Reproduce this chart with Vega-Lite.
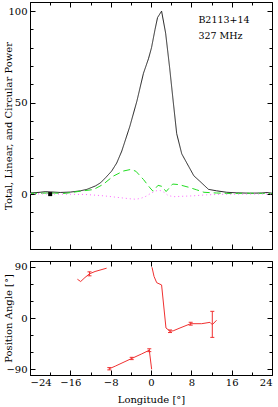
{
  "$schema": "https://vega.github.io/schema/vega-lite/v6.json",
  "padding": {"left": 2, "top": 1, "right": 0, "bottom": 0},
  "background": "white",
  "config": {
    "font": "DejaVu Serif",
    "view": {"stroke": "black", "strokeWidth": 1},
    "axis": {"domain": false, "grid": false, "tickColor": "black", "tickWidth": 1, "labelFont": "DejaVu Serif", "labelFontSize": 10, "labelColor": "black", "titleFont": "DejaVu Serif", "titleFontSize": 10, "titleFontWeight": "normal", "titleColor": "black"}
  },
  "spacing": 10,
  "datasets": {
    "prof": [
      {"pol": "I", "lon": -24, "val": 0.6}, {"pol": "I", "lon": -22, "val": 1.0}, {"pol": "I", "lon": -21, "val": 1.3}, {"pol": "I", "lon": -20, "val": 1.2}, {"pol": "I", "lon": -18, "val": 0.9}, {"pol": "I", "lon": -16, "val": 1.1}, {"pol": "I", "lon": -14, "val": 1.8}, {"pol": "I", "lon": -12.7, "val": 2.6}, {"pol": "I", "lon": -11, "val": 4.5}, {"pol": "I", "lon": -10, "val": 6.2}, {"pol": "I", "lon": -9, "val": 9}, {"pol": "I", "lon": -7.8, "val": 12.6}, {"pol": "I", "lon": -6.8, "val": 17}, {"pol": "I", "lon": -5.8, "val": 23.5}, {"pol": "I", "lon": -4.2, "val": 37}, {"pol": "I", "lon": -2.8, "val": 50.8}, {"pol": "I", "lon": -1.5, "val": 66}, {"pol": "I", "lon": -0.5, "val": 74}, {"pol": "I", "lon": 0.1, "val": 80}, {"pol": "I", "lon": 0.8, "val": 90}, {"pol": "I", "lon": 1.3, "val": 96.5}, {"pol": "I", "lon": 2.1, "val": 100}, {"pol": "I", "lon": 2.9, "val": 88}, {"pol": "I", "lon": 3.7, "val": 69}, {"pol": "I", "lon": 4.4, "val": 50.8}, {"pol": "I", "lon": 5.1, "val": 33}, {"pol": "I", "lon": 6.1, "val": 22}, {"pol": "I", "lon": 7.5, "val": 15}, {"pol": "I", "lon": 8.5, "val": 10}, {"pol": "I", "lon": 9.7, "val": 7}, {"pol": "I", "lon": 11.4, "val": 2.6}, {"pol": "I", "lon": 13, "val": 1.8}, {"pol": "I", "lon": 15, "val": 1.0}, {"pol": "I", "lon": 17, "val": 0.7}, {"pol": "I", "lon": 19.5, "val": 0.5}, {"pol": "I", "lon": 22, "val": 0.6}, {"pol": "I", "lon": 23, "val": 0.9}, {"pol": "I", "lon": 24, "val": 0.5},
      {"pol": "L", "lon": -24, "val": 0.4}, {"pol": "L", "lon": -20, "val": 0.6}, {"pol": "L", "lon": -17, "val": 0.4}, {"pol": "L", "lon": -14, "val": 1.6}, {"pol": "L", "lon": -11.4, "val": 2.5}, {"pol": "L", "lon": -9.5, "val": 5.3}, {"pol": "L", "lon": -7.5, "val": 9.8}, {"pol": "L", "lon": -5.5, "val": 12.6}, {"pol": "L", "lon": -4, "val": 13.5}, {"pol": "L", "lon": -3, "val": 12.5}, {"pol": "L", "lon": -1.5, "val": 8}, {"pol": "L", "lon": -0.2, "val": 3.4}, {"pol": "L", "lon": 0.4, "val": 1.6}, {"pol": "L", "lon": 1.4, "val": 4.8}, {"pol": "L", "lon": 2.2, "val": 4.2}, {"pol": "L", "lon": 3.0, "val": 1.4}, {"pol": "L", "lon": 4.3, "val": 5.5}, {"pol": "L", "lon": 5.5, "val": 5.2}, {"pol": "L", "lon": 7.4, "val": 3.8}, {"pol": "L", "lon": 9, "val": 2.4}, {"pol": "L", "lon": 10.5, "val": 1.0}, {"pol": "L", "lon": 13, "val": 0.6}, {"pol": "L", "lon": 16, "val": 0.3}, {"pol": "L", "lon": 19, "val": 0.5}, {"pol": "L", "lon": 22, "val": 0.4}, {"pol": "L", "lon": 24, "val": 0.3},
      {"pol": "V", "lon": -24, "val": 0.2}, {"pol": "V", "lon": -20, "val": 0.1}, {"pol": "V", "lon": -16, "val": -0.1}, {"pol": "V", "lon": -13, "val": -0.2}, {"pol": "V", "lon": -10, "val": -0.8}, {"pol": "V", "lon": -8.5, "val": -1.2}, {"pol": "V", "lon": -6, "val": -2}, {"pol": "V", "lon": -4, "val": -2.6}, {"pol": "V", "lon": -3, "val": -2.8}, {"pol": "V", "lon": -2, "val": -2.3}, {"pol": "V", "lon": -1, "val": -1.2}, {"pol": "V", "lon": 0, "val": 0.5}, {"pol": "V", "lon": 1, "val": 1.8}, {"pol": "V", "lon": 1.8, "val": 2.0}, {"pol": "V", "lon": 2.6, "val": 1.0}, {"pol": "V", "lon": 3.4, "val": -0.8}, {"pol": "V", "lon": 4.5, "val": -1.4}, {"pol": "V", "lon": 6, "val": -1.2}, {"pol": "V", "lon": 8, "val": -1.0}, {"pol": "V", "lon": 11, "val": -0.4}, {"pol": "V", "lon": 14, "val": -0.1}, {"pol": "V", "lon": 18, "val": 0}, {"pol": "V", "lon": 24, "val": 0.1}
    ],
    "pa": [
      {"seg": 1, "lon": -14.6, "pa": 68}, {"seg": 1, "lon": -13.95, "pa": 64}, {"seg": 1, "lon": -13.1, "pa": 71}, {"seg": 1, "lon": -12.2, "pa": 77.5}, {"seg": 1, "lon": -11.1, "pa": 81.6}, {"seg": 1, "lon": -8.8, "pa": 87.4},
      {"seg": 2, "lon": -8.27, "pa": -89}, {"seg": 2, "lon": -7.1, "pa": -84.5}, {"seg": 2, "lon": -3.83, "pa": -71}, {"seg": 2, "lon": -1.85, "pa": -63}, {"seg": 2, "lon": -0.34, "pa": -56.5}, {"seg": 2, "lon": 0.13, "pa": -90},
      {"seg": 3, "lon": 0.2, "pa": 89}, {"seg": 3, "lon": 0.6, "pa": 73}, {"seg": 3, "lon": 1.13, "pa": 62}, {"seg": 3, "lon": 2.1, "pa": 58}, {"seg": 3, "lon": 2.97, "pa": -17.5}, {"seg": 3, "lon": 3.77, "pa": -23.2}, {"seg": 3, "lon": 4.4, "pa": -22.5}, {"seg": 3, "lon": 5.75, "pa": -17.5}, {"seg": 3, "lon": 7.87, "pa": -10}, {"seg": 3, "lon": 10.05, "pa": -10}, {"seg": 3, "lon": 11.7, "pa": -7.6}, {"seg": 3, "lon": 12.16, "pa": -11.7}, {"seg": 3, "lon": 13.0, "pa": -4}
    ],
    "err": [
      {"lon": -12.2, "lo": 74, "hi": 81}, {"lon": -8.27, "lo": -91, "hi": -87}, {"lon": -3.83, "lo": -73, "hi": -69}, {"lon": -0.34, "lo": -59, "hi": -54}, {"lon": 3.77, "lo": -25.5, "hi": -21}, {"lon": 7.87, "lo": -12.5, "hi": -7.5}, {"lon": 12.16, "lo": -34, "hi": 11.7}
    ]
  },
  "vconcat": [
    {
      "width": 242, "height": 247,
      "resolve": {"axis": {"x": "independent", "y": "independent"}},
      "layer": [
        {
          "data": {"name": "prof"},
          "mark": {"type": "line", "strokeWidth": 1},
          "encoding": {
            "x": {"field": "lon", "type": "quantitative", "scale": {"domain": [-24, 24], "nice": false, "zero": false}, "axis": {"orient": "bottom", "values": [-24, -16, -8, 0, 8, 16, 24], "labels": false, "tickSize": -5, "title": null}},
            "y": {"field": "val", "type": "quantitative", "scale": {"domain": [-30, 105], "nice": false, "zero": false}, "axis": {"orient": "left", "values": [0, 50, 100], "tickSize": -5, "labelPadding": 8, "title": "Total, Linear, and Circular Power", "titleX": -22, "titleBaseline": "middle"}},
            "color": {"field": "pol", "type": "nominal", "scale": {"domain": ["I", "L", "V"], "range": ["#222222", "#22dd22", "#ff66ff"]}, "legend": null},
            "strokeDash": {"field": "pol", "type": "nominal", "scale": {"domain": ["I", "L", "V"], "range": [[1, 0], [7, 4], [1, 3]]}, "legend": null}
          }
        },
        {
          "data": {"values": [{"lon": -20, "val": 0}]},
          "mark": {"type": "point", "shape": "square", "filled": true, "color": "black", "size": 16, "opacity": 1},
          "encoding": {
            "x": {"field": "lon", "type": "quantitative", "scale": {"domain": [-24, 24], "nice": false, "zero": false}, "axis": {"orient": "bottom", "values": [-24, -20, -16, -12, -8, -4, 0, 4, 8, 12, 16, 20, 24], "labels": false, "tickSize": -3, "title": null}},
            "y": {"field": "val", "type": "quantitative", "scale": {"domain": [-30, 105], "nice": false, "zero": false}, "axis": {"orient": "left", "values": [-30, -20, -10, 0, 10, 20, 30, 40, 50, 60, 70, 80, 90, 100], "labels": false, "tickSize": -3, "title": null}}
          }
        },
        {
          "data": {"values": [{"lon": 9.4, "val": 95, "label": "B2113+14"}]},
          "mark": {"type": "text", "align": "left", "baseline": "middle", "fontSize": 9.5, "color": "black", "font": "DejaVu Serif"},
          "encoding": {
            "x": {"field": "lon", "type": "quantitative", "scale": {"domain": [-24, 24], "nice": false, "zero": false}, "axis": {"orient": "top", "values": [-24, -16, -8, 0, 8, 16, 24], "labels": false, "tickSize": -5, "title": null}},
            "y": {"field": "val", "type": "quantitative", "scale": {"domain": [-30, 105], "nice": false, "zero": false}, "axis": {"orient": "right", "values": [0, 50, 100], "labels": false, "tickSize": -5, "title": null}},
            "text": {"field": "label"}
          }
        },
        {
          "data": {"values": [{"lon": 9.4, "val": 86.3, "label": "327 MHz"}]},
          "mark": {"type": "text", "align": "left", "baseline": "middle", "fontSize": 9.5, "color": "black", "font": "DejaVu Serif"},
          "encoding": {
            "x": {"field": "lon", "type": "quantitative", "scale": {"domain": [-24, 24], "nice": false, "zero": false}, "axis": {"orient": "top", "values": [-24, -20, -16, -12, -8, -4, 0, 4, 8, 12, 16, 20, 24], "labels": false, "tickSize": -3, "title": null}},
            "y": {"field": "val", "type": "quantitative", "scale": {"domain": [-30, 105], "nice": false, "zero": false}, "axis": {"orient": "right", "values": [-30, -20, -10, 0, 10, 20, 30, 40, 50, 60, 70, 80, 90, 100], "labels": false, "tickSize": -3, "title": null}},
            "text": {"field": "label"}
          }
        }
      ]
    },
    {
      "width": 242, "height": 114,
      "resolve": {"axis": {"x": "independent", "y": "independent"}},
      "layer": [
        {
          "data": {"name": "pa"},
          "mark": {"type": "line", "strokeWidth": 1, "color": "#f03030"},
          "encoding": {
            "x": {"field": "lon", "type": "quantitative", "scale": {"domain": [-24, 24], "nice": false, "zero": false}, "axis": {"orient": "bottom", "values": [-24, -16, -8, 0, 8, 16, 24], "tickSize": -5, "labelPadding": 7, "title": "Longitude [°]", "titlePadding": 7}},
            "y": {"field": "pa", "type": "quantitative", "scale": {"domain": [-100, 100], "nice": false, "zero": false}, "axis": {"orient": "left", "values": [-90, 0, 90], "tickSize": -5, "labelPadding": 8, "title": "Position Angle [°]", "titleX": -22, "titleBaseline": "middle"}},
            "detail": {"field": "seg", "type": "nominal"}
          }
        },
        {
          "data": {"name": "err"},
          "mark": {"type": "rule", "strokeWidth": 1, "color": "#f03030"},
          "encoding": {
            "x": {"field": "lon", "type": "quantitative", "scale": {"domain": [-24, 24], "nice": false, "zero": false}, "axis": {"orient": "bottom", "values": [-24, -20, -16, -12, -8, -4, 0, 4, 8, 12, 16, 20, 24], "labels": false, "tickSize": -3, "title": null}},
            "y": {"field": "lo", "type": "quantitative", "scale": {"domain": [-100, 100], "nice": false, "zero": false}, "axis": {"orient": "left", "values": [-90, -60, -30, 0, 30, 60, 90], "labels": false, "tickSize": -3, "title": null}},
            "y2": {"field": "hi"}
          }
        },
        {
          "data": {"name": "err"},
          "mark": {"type": "tick", "orient": "horizontal", "size": 4, "thickness": 1, "color": "#f03030", "opacity": 1},
          "encoding": {
            "x": {"field": "lon", "type": "quantitative", "scale": {"domain": [-24, 24], "nice": false, "zero": false}, "axis": {"orient": "top", "values": [-24, -16, -8, 0, 8, 16, 24], "labels": false, "tickSize": -5, "title": null}},
            "y": {"field": "lo", "type": "quantitative", "scale": {"domain": [-100, 100], "nice": false, "zero": false}, "axis": {"orient": "right", "values": [-90, 0, 90], "labels": false, "tickSize": -5, "title": null}}
          }
        },
        {
          "data": {"name": "err"},
          "mark": {"type": "tick", "orient": "horizontal", "size": 4, "thickness": 1, "color": "#f03030", "opacity": 1},
          "encoding": {
            "x": {"field": "lon", "type": "quantitative", "scale": {"domain": [-24, 24], "nice": false, "zero": false}, "axis": {"orient": "top", "values": [-24, -20, -16, -12, -8, -4, 0, 4, 8, 12, 16, 20, 24], "labels": false, "tickSize": -3, "title": null}},
            "y": {"field": "hi", "type": "quantitative", "scale": {"domain": [-100, 100], "nice": false, "zero": false}, "axis": {"orient": "right", "values": [-90, -60, -30, 0, 30, 60, 90], "labels": false, "tickSize": -3, "title": null}}
          }
        }
      ]
    }
  ]
}
